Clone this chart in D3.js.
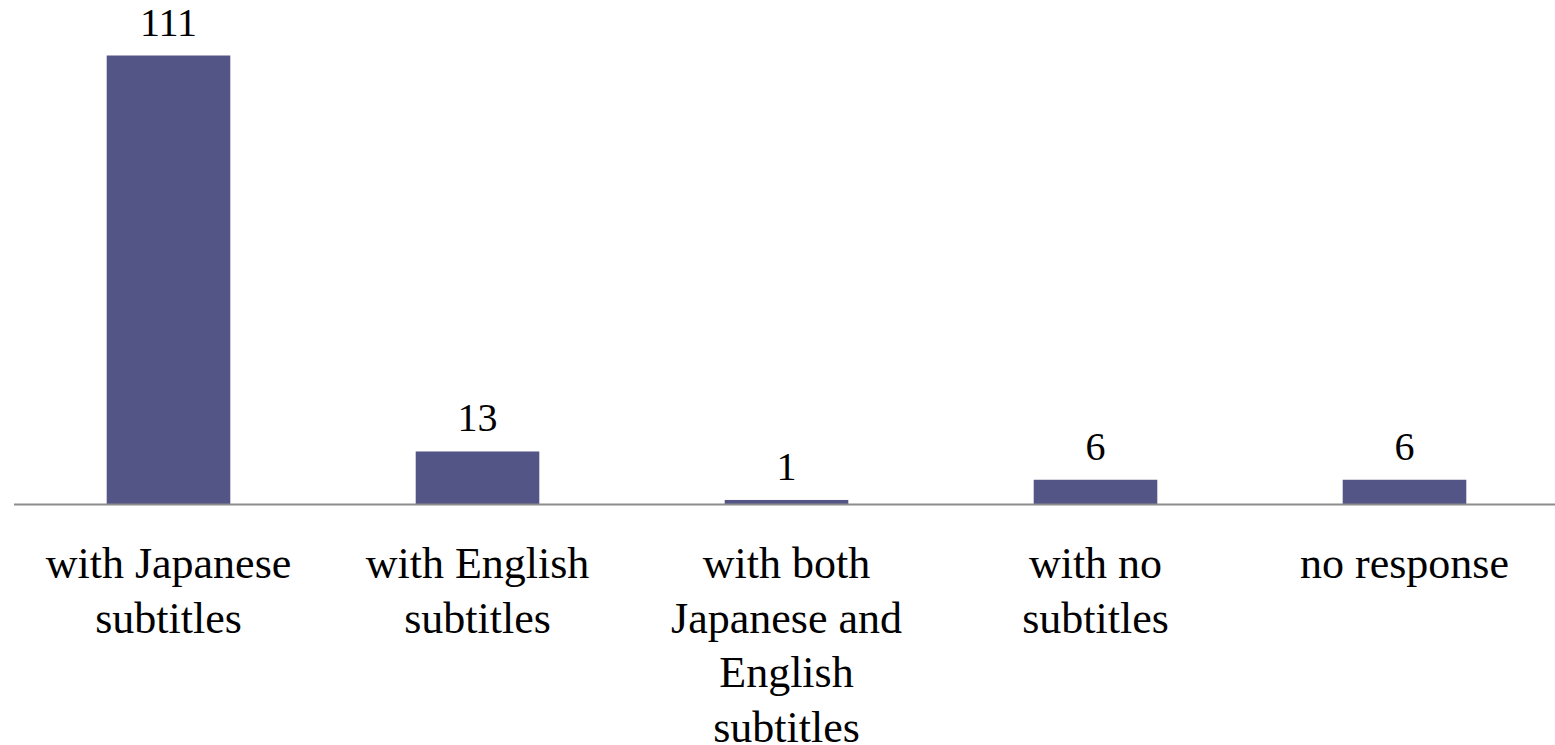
<!DOCTYPE html>
<html>
<head>
<meta charset="utf-8">
<script src="https://cdn.jsdelivr.net/npm/d3@7"></script>
<style>
  html, body { margin: 0; padding: 0; background: #ffffff; }
  svg { display: block; }
</style>
</head>
<body>
<svg id="chart" width="1555" height="745"></svg>
<script>
const categories = [
  "with Japanese\nsubtitles",
  "with English\nsubtitles",
  "with both\nJapanese and\nEnglish\nsubtitles",
  "with no\nsubtitles",
  "no response"
];
const values = [111, 13, 1, 6, 6];

const W = 1555, H = 745;
const svg = d3.select("#chart");

const x = d3.scaleBand()
  .domain(categories)
  .range([14, 1559])
  .paddingInner(0.6)
  .paddingOuter(0.3);

const y = d3.scaleLinear()
  .domain([0, 111])
  .range([504, 55.5]);

// bars
svg.append("g").selectAll("rect")
  .data(values)
  .join("rect")
  .attr("x", (d, i) => x(categories[i]))
  .attr("y", d => y(d))
  .attr("width", x.bandwidth())
  .attr("height", d => y(0) - y(d))
  .attr("fill", "#545587");

// axis line
const axis = d3.axisBottom(x).tickSize(0).tickFormat("");
const gx = svg.append("g").attr("transform", `translate(0,${y(0)})`).call(axis);
gx.select(".domain").attr("stroke", "#8c8c8c").attr("stroke-width", 2)
  .attr("d", `M14,0.5H${W}`);

// value labels
svg.append("g").selectAll("text")
  .data(values)
  .join("text")
  .attr("x", (d, i) => x(categories[i]) + x.bandwidth() / 2)
  .attr("y", d => y(d) - 20)
  .attr("text-anchor", "middle")
  .attr("font-family", "'Liberation Serif', 'DejaVu Serif', serif")
  .attr("font-size", 40)
  .attr("fill", "#000")
  .text(d => d);

// category labels
const catG = svg.append("g");
categories.forEach(c => {
  const t = catG.append("text")
    .attr("x", x(c) + x.bandwidth() / 2)
    .attr("y", 578)
    .attr("text-anchor", "middle")
    .attr("font-family", "'Liberation Serif', 'DejaVu Serif', serif")
    .attr("font-size", 44)
    .attr("fill", "#000");
  c.split("\n").forEach((line, j) => {
    t.append("tspan")
      .attr("x", x(c) + x.bandwidth() / 2)
      .attr("y", 578 + j * 54.5)
      .text(line);
  });
});
</script>
</body>
</html>
